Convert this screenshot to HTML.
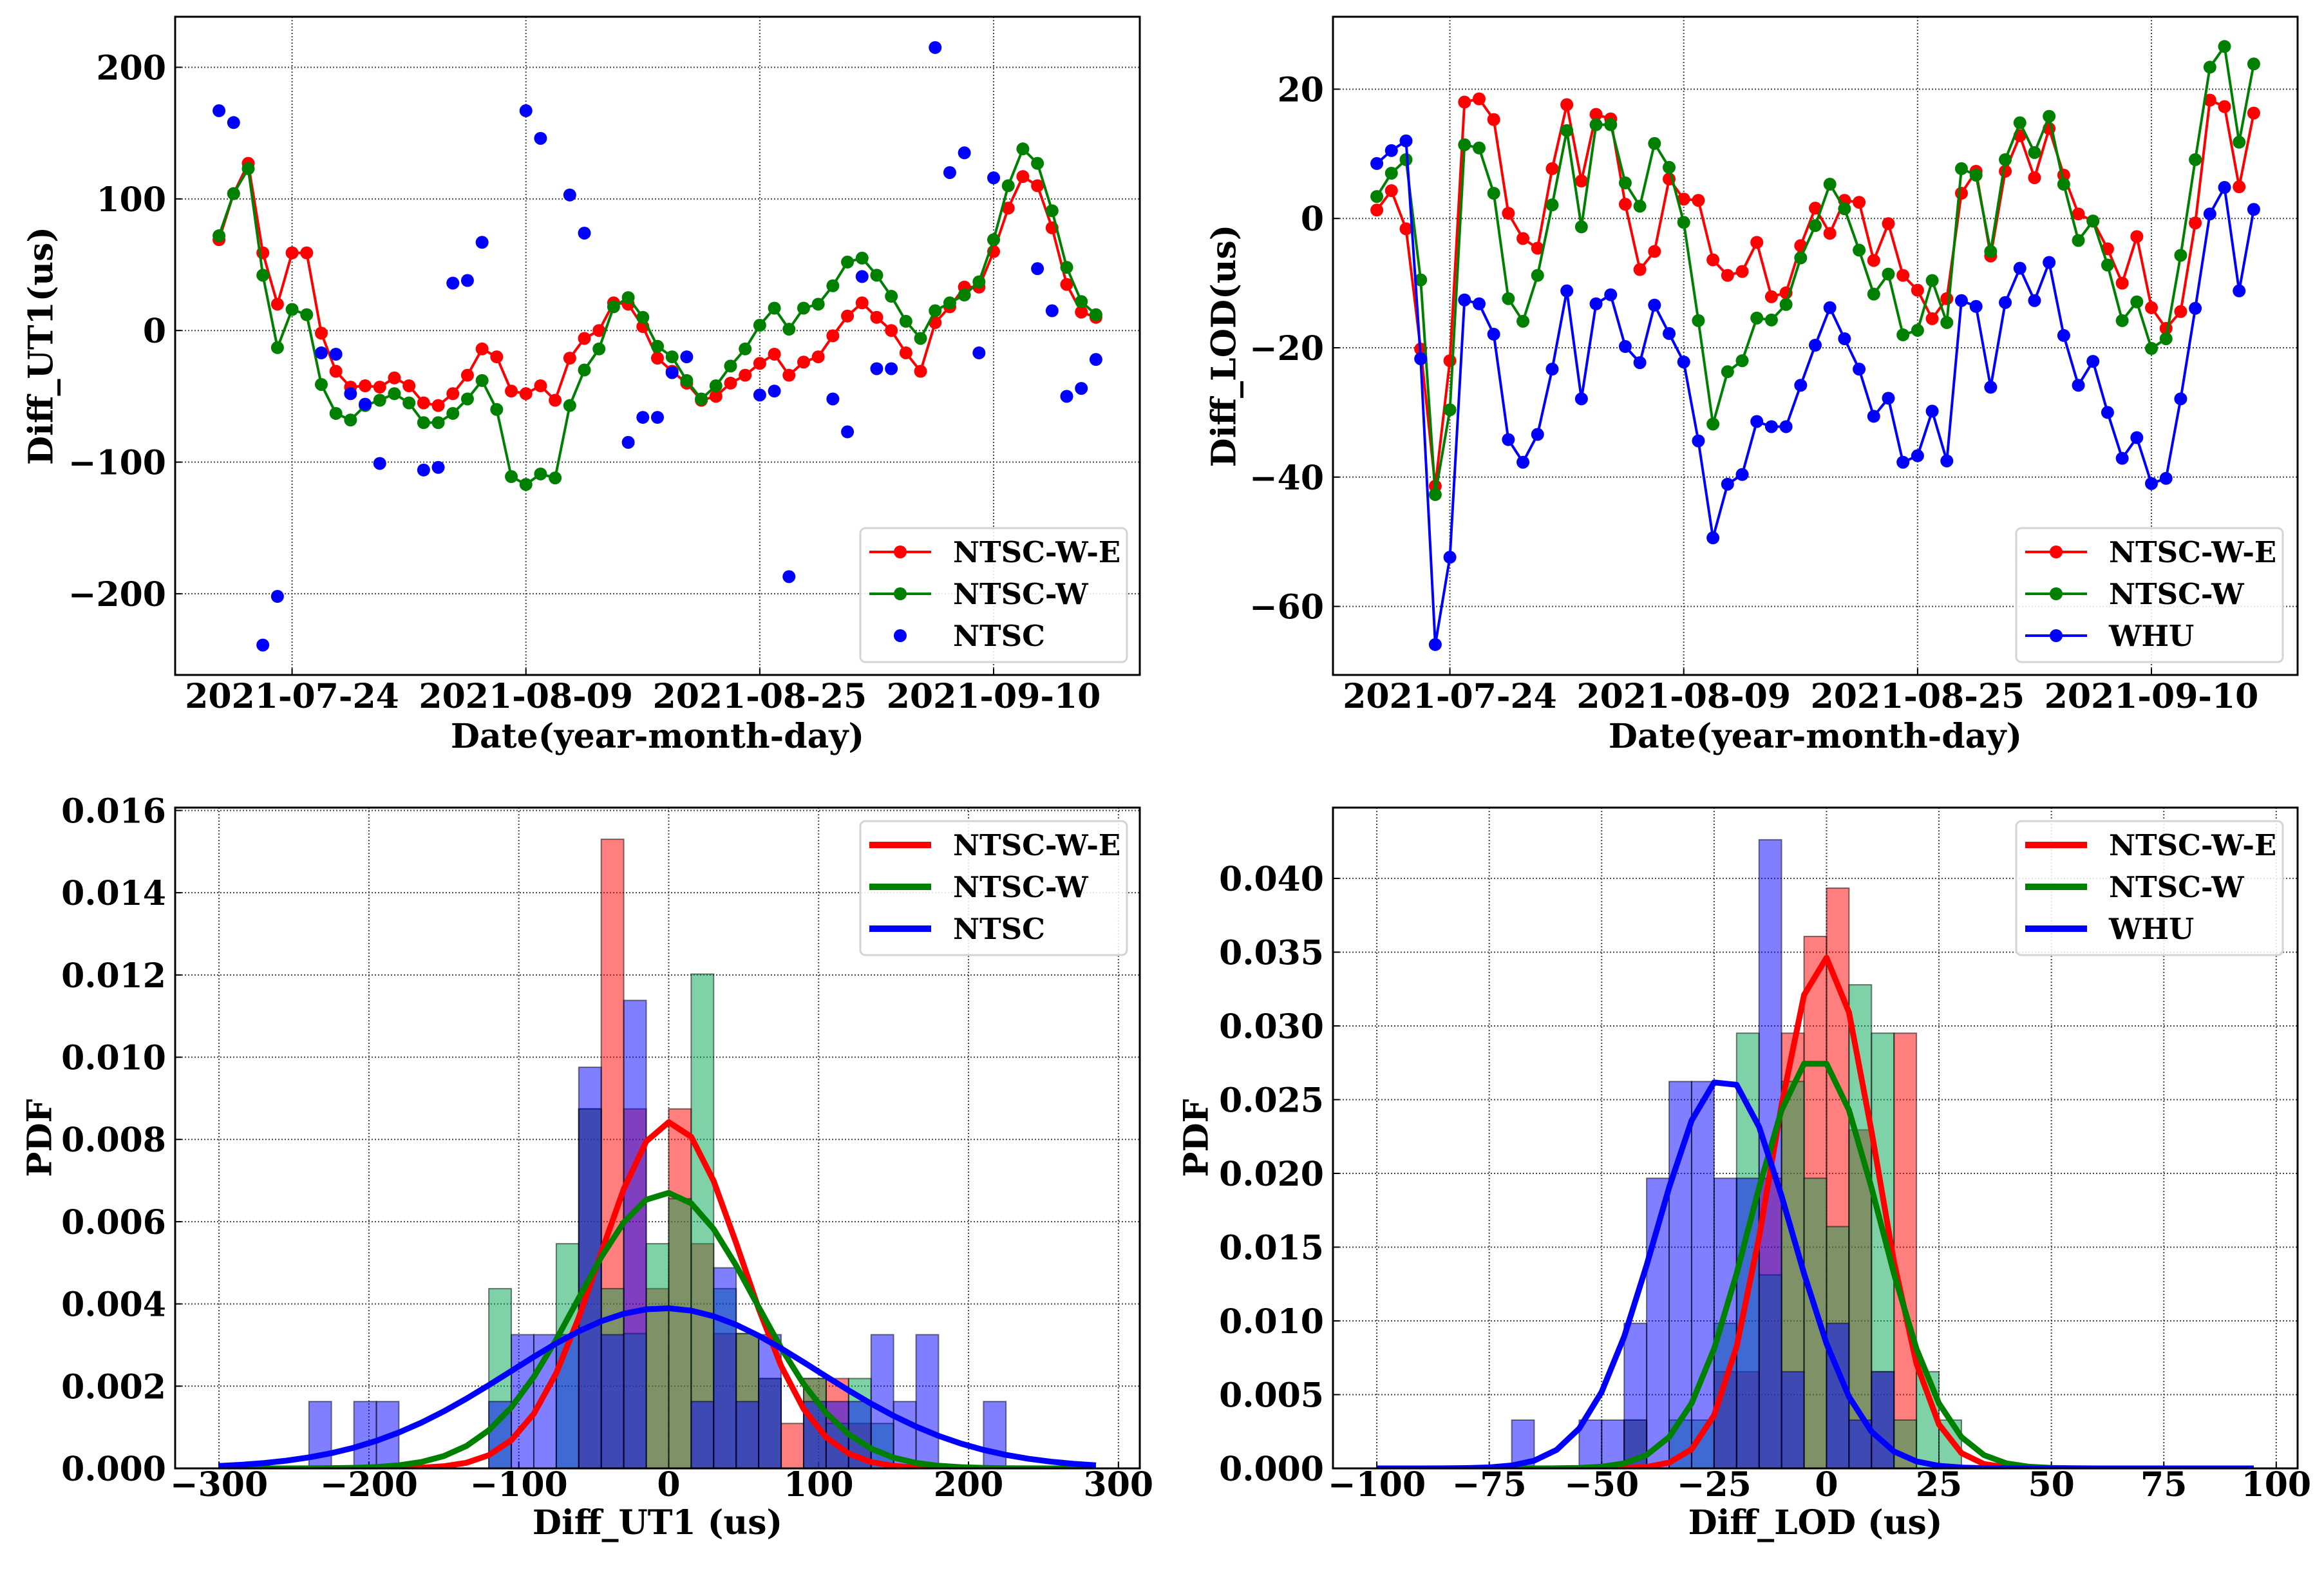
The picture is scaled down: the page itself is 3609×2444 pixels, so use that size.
<!DOCTYPE html>
<html><head><meta charset="utf-8">
<style>
html,body{margin:0;padding:0;background:#fff;}
svg{display:block;}
text{font-family:"DejaVu Serif","Liberation Serif",serif;font-weight:bold;fill:#000;}
</style></head>
<body>
<svg id="fig" xmlns="http://www.w3.org/2000/svg" width="3609" height="2444" viewBox="0 0 3609 2444">
<rect x="0" y="0" width="3609" height="2444" fill="#fff"/>
</svg>
<script>
// ---- Data (day index 0 = 2021-07-19) ----
const dateTickDays = [5, 21, 37, 53];
const dateTickLabels = ["2021-07-24", "2021-08-09", "2021-08-25", "2021-09-10"];

const ut1NtscWE = [69,104,127,59,20,59,59,-2,-31,-43,-42,-43,-36,-42,-55,-57,-48,-34,-14,-20,-46,-48,-42,-53,-21,-6,0,21,20,3,-21,-31,-40,-53,-50,-40,-34,-25,-18,-34,-24,-20,-4,11,21,10,0,-17,-31,6,18,33,33,60,93,117,110,78,35,14,10];
const ut1NtscW = [72,104,123,42,-13,16,12,-41,-63,-68,-57,-53,-48,-55,-70,-70,-63,-52,-38,-60,-111,-117,-109,-112,-57,-30,-14,18,25,10,-12,-20,-38,-52,-42,-27,-14,4,17,1,17,20,34,52,55,42,26,7,-6,15,21,27,37,69,110,138,127,91,48,22,12];
const ut1NtscDays = [0,1,3,4,7,8,9,10,11,14,15,16,17,18,21,22,24,25,28,29,30,31,32,37,38,39,42,43,44,45,46,49,50,51,52,53,56,57,58,59,60];
const ut1Ntsc = [167,158,-239,-202,-17,-18,-48,-56,-101,-106,-104,36,38,67,167,146,103,74,-85,-66,-66,-32,-20,-49,-46,-187,-52,-77,41,-29,-29,215,120,135,-17,116,47,15,-50,-44,-22];

const lodNtscWE = [1.3,4.3,-1.6,-20.2,-41.4,-22,18,18.5,15.3,0.8,-3.1,-4.6,7.7,17.6,5.8,16.1,15.4,2.2,-7.9,-5.1,6.1,3,2.8,-6.4,-8.8,-8.2,-3.7,-12.1,-11.5,-4.2,1.6,-2.3,2.8,2.5,-6.5,-0.8,-8.8,-11.1,-15.5,-12.4,3.9,7.3,-5.8,7.3,12.8,6.3,13.9,6.7,0.7,-0.4,-4.7,-10,-2.8,-13.8,-17,-14.4,-0.7,18.3,17.3,4.9,16.3];
const lodNtscW = [3.4,7,9.1,-9.5,-42.7,-29.6,11.4,10.9,3.9,-12.4,-15.9,-8.8,2.1,13.6,-1.3,14.5,14.5,5.5,1.9,11.6,7.9,-0.6,-15.8,-31.8,-23.7,-22,-15.4,-15.7,-13.3,-6.1,-1.1,5.3,1.5,-4.9,-11.7,-8.6,-18,-17.3,-9.6,-16.1,7.7,6.7,-5.1,9.1,14.8,10.2,15.8,5.3,-3.4,-0.4,-7.2,-15.8,-12.9,-20.1,-18.6,-5.7,9.1,23.4,26.6,11.8,23.9];
const lodWhu = [8.5,10.5,12,-21.7,-65.9,-52.4,-12.6,-13.2,-17.9,-34.2,-37.7,-33.4,-23.3,-11.2,-27.9,-13.2,-11.8,-19.8,-22.3,-13.4,-17.8,-22.2,-34.4,-49.4,-41.1,-39.6,-31.4,-32.2,-32.2,-25.8,-19.6,-13.8,-18.6,-23.3,-30.6,-27.8,-37.7,-36.7,-29.8,-37.5,-12.7,-13.6,-26.1,-13,-7.7,-12.7,-6.8,-18.1,-25.8,-22.1,-30,-37.1,-33.9,-41,-40.2,-27.9,-13.9,0.7,4.8,-11.2,1.4];

const ut1YTicks = [-200,-100,0,100,200];
const lodYTicks = [-60,-40,-20,0,20];
const ut1PdfXTicks = [-300,-200,-100,0,100,200,300];
const ut1PdfYTicks = [0,0.002,0.004,0.006,0.008,0.010,0.012,0.014,0.016];
const lodPdfXTicks = [-100,-75,-50,-25,0,25,50,75,100];
const lodPdfYTicks = [0,0.005,0.010,0.015,0.020,0.025,0.030,0.035,0.040];
const legendUT1 = ["NTSC-W-E","NTSC-W","NTSC"];
const legendLOD = ["NTSC-W-E","NTSC-W","WHU"];

// ---- drawing helpers ----
const NS = "http://www.w3.org/2000/svg";
const svg = document.getElementById("fig");
function mk(tag, attrs, parent) {
  const e = document.createElementNS(NS, tag);
  for (const k in attrs) e.setAttribute(k, attrs[k]);
  (parent || svg).appendChild(e);
  return e;
}
function scale(d0, d1, r0, r1) { return v => r0 + (v - d0) / (d1 - d0) * (r1 - r0); }

function makePanel(name, box, xd, yd) {
  const g = mk("g", {});
  
  
  const p = {g, box, x: scale(xd[0], xd[1], box.x0, box.x1), y: scale(yd[0], yd[1], box.y1, box.y0)};
  const clip = mk("clipPath", {id: name + "-clip"}, g);
  mk("rect", {x: box.x0, y: box.y0, width: box.x1 - box.x0, height: box.y1 - box.y0}, clip);
  p.grid = mk("g", {}, g);
  
  
  p.plot = mk("g", {"clip-path": "url(#" + name + "-clip)"}, g);
  
  
  return p;
}
function gridX(p, v) {
  const x = p.x(v);
  mk("line", {x1: x, x2: x, y1: p.box.y0, y2: p.box.y1, stroke: "#444", "stroke-width": 2, "stroke-dasharray": "2,3"}, p.grid);
  mk("line", {x1: x, x2: x, y1: p.box.y1, y2: p.box.y1 - 10, stroke: "#000", "stroke-width": 2}, p.grid);
}
function gridY(p, v) {
  const y = p.y(v);
  mk("line", {x1: p.box.x0, x2: p.box.x1, y1: y, y2: y, stroke: "#444", "stroke-width": 2, "stroke-dasharray": "2,3"}, p.grid);
  mk("line", {x1: p.box.x0, x2: p.box.x0 + 10, y1: y, y2: y, stroke: "#000", "stroke-width": 2}, p.grid);
}
function xTickLabel(p, v, label, baseY) {
  const t = mk("text", {x: p.x(v), y: baseY, "font-size": 52, "text-anchor": "middle"}, p.g);
  t.textContent = label;
  
  
}
function yTickLabel(p, v, label) {
  const t = mk("text", {x: p.box.x0 - 14, y: p.y(v) + 19, "font-size": 52, "text-anchor": "end"}, p.g);
  t.textContent = label;
  
  
}
function axisLabels(p, xl, xy, yl, yx) {
  const t = mk("text", {x: (p.box.x0 + p.box.x1) / 2, y: xy, "font-size": 52, "text-anchor": "middle"}, p.g);
  t.textContent = xl;
  
  
  const cy = (p.box.y0 + p.box.y1) / 2;
  const u = mk("text", {x: yx, y: cy, "font-size": 52, "text-anchor": "middle", "dominant-baseline": "central", transform: "rotate(-90," + yx + "," + cy + ")"}, p.g);
  u.textContent = yl;
  
  
}
function frame(p) {
  const r = mk("rect", {x: p.box.x0, y: p.box.y0, width: p.box.x1 - p.box.x0, height: p.box.y1 - p.box.y0, fill: "none", stroke: "#000", "stroke-width": 3}, p.g);
  
  
}
function legend(p, labels, colors, kinds, bx, by) {
  const lg = mk("g", {}, p.g);
  
  
  mk("rect", {x: bx, y: by, width: 414, height: 208, rx: 8, fill: "#fff", "fill-opacity": 0.85, stroke: "#d4d4d4", "stroke-width": 3}, lg);
  labels.forEach((lab, i) => {
    const ry = by + 37 + i * 65;
    const e = mk("g", {}, lg);
    
    
    const k = kinds[i];
    if (k === "line") {
      mk("line", {x1: bx + 14, x2: bx + 110, y1: ry, y2: ry, stroke: colors[i], "stroke-width": 10}, e);
    } else if (k === "marker") {
      mk("circle", {cx: bx + 62, cy: ry, r: 10, fill: colors[i]}, e);
    } else {
      mk("line", {x1: bx + 14, x2: bx + 110, y1: ry, y2: ry, stroke: colors[i], "stroke-width": 4}, e);
      mk("circle", {cx: bx + 62, cy: ry, r: 10, fill: colors[i]}, e);
    }
    const t = mk("text", {x: bx + 144, y: ry + 16, "font-size": 45}, e);
    t.textContent = lab;
  });
}
function series(p, days, vals, color, name, withLine) {
  const g = mk("g", {}, p.plot);
  
  
  if (withLine) {
    const pts = vals.map((v, i) => p.x(days[i]) + "," + p.y(v)).join(" ");
    mk("polyline", {points: pts, fill: "none", stroke: color, "stroke-width": 4, "stroke-linejoin": "round"}, g);
  }
  vals.forEach((v, i) => {
    const c = mk("circle", {cx: p.x(days[i]), cy: p.y(v), r: 10, fill: color}, g);
    
    
  });
}
function histogram(p, vals, w, fill, name) {
  const g = mk("g", {}, p.plot);
  
  
  const counts = {};
  vals.forEach(v => { const b = Math.floor(v / w + 1e-9); counts[b] = (counts[b] || 0) + 1; });
  Object.keys(counts).forEach(k => {
    const b = +k, dens = counts[k] / (vals.length * w);
    const x0 = p.x(b * w), x1 = p.x((b + 1) * w), y0 = p.y(dens), y1 = p.y(0);
    const r = mk("rect", {x: x0, y: y0, width: x1 - x0, height: y1 - y0, fill: fill, "fill-opacity": 0.5, stroke: "#000", "stroke-opacity": 0.5, "stroke-width": 2}, g);
    
    
  });
}
function gaussCurve(p, vals, xs, color, name) {
  const n = vals.length;
  const mu = vals.reduce((a, b) => a + b, 0) / n;
  const sd = Math.sqrt(vals.reduce((a, b) => a + (b - mu) * (b - mu), 0) / n);
  const pts = xs.map(x => p.x(x) + "," + p.y(Math.exp(-0.5 * ((x - mu) / sd) ** 2) / (sd * Math.sqrt(2 * Math.PI)))).join(" ");
  const l = mk("polyline", {points: pts, fill: "none", stroke: color, "stroke-width": 9, "stroke-linejoin": "round"}, p.plot);
  
  
}
const dayIdx = ut1NtscWE.map((_, i) => i);

// ---- Panel 1: Diff_UT1 time series ----
{
  const p = makePanel("ut1-timeseries", {x0: 272, x1: 1770, y0: 26, y1: 1048}, [-3, 63], [-261.7, 238.4]);
  dateTickDays.forEach((d, i) => { gridX(p, d); xTickLabel(p, d, dateTickLabels[i], 1099); });
  ut1YTicks.forEach(v => { gridY(p, v); yTickLabel(p, v, v < 0 ? "\u2212" + (-v) : "" + v); });
  series(p, dayIdx, ut1NtscWE, "#ff0000", "ntsc-w-e-series", true);
  series(p, dayIdx, ut1NtscW, "#008000", "ntsc-w-series", true);
  series(p, ut1NtscDays, ut1Ntsc, "#0000ff", "ntsc-scatter", false);
  frame(p);
  axisLabels(p, "Date(year-month-day)", 1161, "Diff_UT1(us)", 64);
  legend(p, legendUT1, ["#ff0000", "#008000", "#0000ff"], ["both", "both", "marker"], 1336, 820);
}
// ---- Panel 2: Diff_LOD time series ----
{
  const p = makePanel("lod-timeseries", {x0: 2070, x1: 3568, y0: 26, y1: 1048}, [-3, 63], [-70.6, 31.2]);
  dateTickDays.forEach((d, i) => { gridX(p, d); xTickLabel(p, d, dateTickLabels[i], 1099); });
  lodYTicks.forEach(v => { gridY(p, v); yTickLabel(p, v, v < 0 ? "\u2212" + (-v) : "" + v); });
  series(p, dayIdx, lodNtscWE, "#ff0000", "ntsc-w-e-series", true);
  series(p, dayIdx, lodNtscW, "#008000", "ntsc-w-series", true);
  series(p, dayIdx, lodWhu, "#0000ff", "whu-series", true);
  frame(p);
  axisLabels(p, "Date(year-month-day)", 1161, "Diff_LOD(us)", 1901);
  legend(p, legendLOD, ["#ff0000", "#008000", "#0000ff"], ["both", "both", "both"], 3131, 820);
}
// ---- Panel 3: UT1 PDF ----
{
  const p = makePanel("ut1-pdf", {x0: 272, x1: 1770, y0: 1254, y1: 2280}, [-329.25, 314.25], [0, 0.01607]);
  ut1PdfXTicks.forEach(v => { gridX(p, v); xTickLabel(p, v, v < 0 ? "\u2212" + (-v) : "" + v, 2323); });
  ut1PdfYTicks.forEach(v => { gridY(p, v); yTickLabel(p, v, v.toFixed(3)); });
  histogram(p, ut1NtscWE, 15, "#ff0000", "ntsc-w-e-hist");
  histogram(p, ut1NtscW, 15, "#00a550", "ntsc-w-hist");
  histogram(p, ut1Ntsc, 15, "#0000ff", "ntsc-hist");
  const xs = []; for (let x = -300; x <= 285; x += 15) xs.push(x);
  gaussCurve(p, ut1NtscWE, xs, "#ff0000", "ntsc-w-e-pdf-curve");
  gaussCurve(p, ut1NtscW, xs, "#008000", "ntsc-w-pdf-curve");
  gaussCurve(p, ut1Ntsc, xs, "#0000ff", "ntsc-pdf-curve");
  frame(p);
  axisLabels(p, "Diff_UT1 (us)", 2382, "PDF", 62);
  legend(p, legendUT1, ["#ff0000", "#008000", "#0000ff"], ["line", "line", "line"], 1336, 1275);
}
// ---- Panel 4: LOD PDF ----
{
  const p = makePanel("lod-pdf", {x0: 2070, x1: 3568, y0: 1254, y1: 2280}, [-109.75, 104.75], [0, 0.0448]);
  lodPdfXTicks.forEach(v => { gridX(p, v); xTickLabel(p, v, v < 0 ? "\u2212" + (-v) : "" + v, 2323); });
  lodPdfYTicks.forEach(v => { gridY(p, v); yTickLabel(p, v, v.toFixed(3)); });
  histogram(p, lodNtscWE, 5, "#ff0000", "ntsc-w-e-hist");
  histogram(p, lodNtscW, 5, "#00a550", "ntsc-w-hist");
  histogram(p, lodWhu, 5, "#0000ff", "whu-hist");
  const xs = []; for (let x = -100; x <= 95; x += 5) xs.push(x);
  gaussCurve(p, lodNtscWE, xs, "#ff0000", "ntsc-w-e-pdf-curve");
  gaussCurve(p, lodNtscW, xs, "#008000", "ntsc-w-pdf-curve");
  gaussCurve(p, lodWhu, xs, "#0000ff", "whu-pdf-curve");
  frame(p);
  axisLabels(p, "Diff_LOD (us)", 2382, "PDF", 1858);
  legend(p, legendLOD, ["#ff0000", "#008000", "#0000ff"], ["line", "line", "line"], 3131, 1275);
}
</script>
</body></html>
